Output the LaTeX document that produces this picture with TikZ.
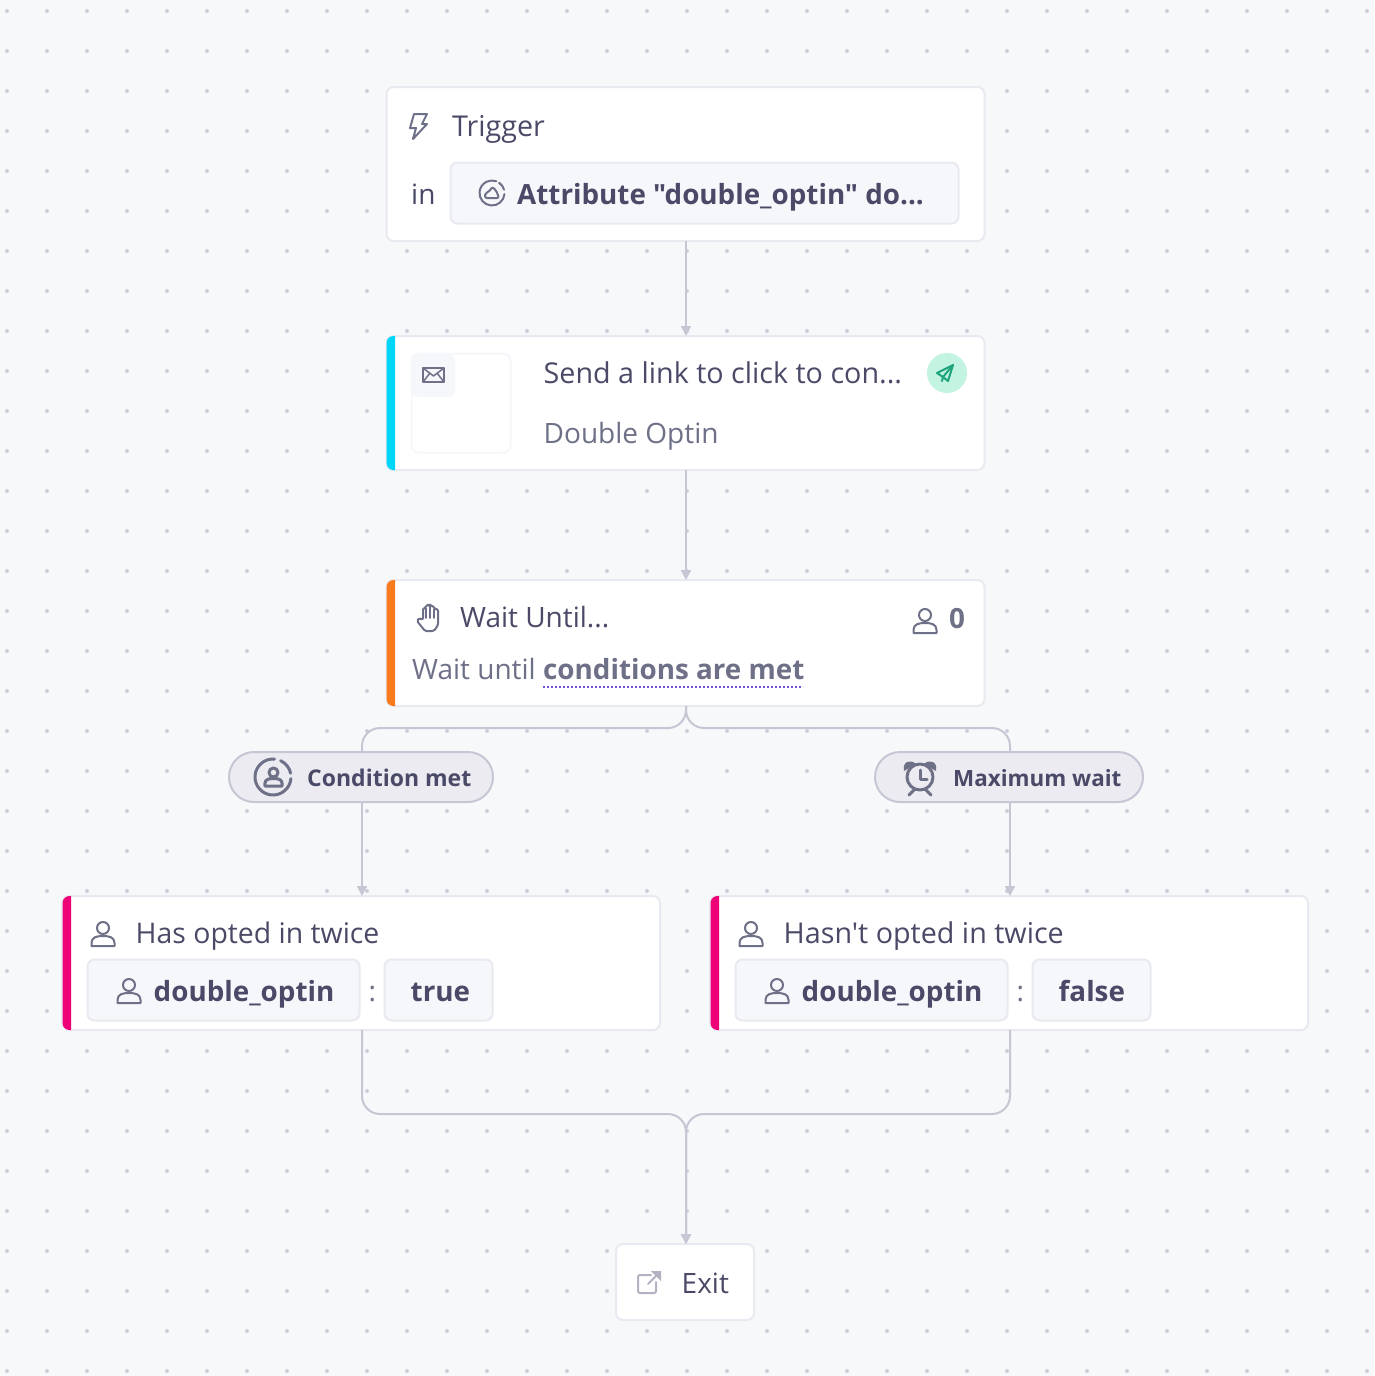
\documentclass[tikz,border=0pt]{standalone}
\usepackage{fontspec}
\usetikzlibrary{arrows.meta}
\newfontfamily\uifont{Open Sans}
\definecolor{pagebg}{HTML}{F7F8FA}
\definecolor{griddot}{HTML}{CDCDDA}
\definecolor{cardline}{HTML}{E9E9F1}
\definecolor{chipfill}{HTML}{F6F7FA}
\definecolor{pillfill}{HTML}{EBEBF1}
\definecolor{linkline}{HTML}{C6C6D4}
\definecolor{inkdark}{HTML}{4A4A68}
\definecolor{inkgrey}{HTML}{6E7088}
\definecolor{accentcyan}{HTML}{00D7F8}
\definecolor{accentorange}{HTML}{FA7A1E}
\definecolor{accentpink}{HTML}{EE0078}
\definecolor{mint}{HTML}{C2F4E1}
\definecolor{mintink}{HTML}{1FA37C}
\definecolor{dotpurple}{HTML}{7A4FE0}
\definecolor{exitgrey}{HTML}{B2B2C2}

\begin{document}
\begin{tikzpicture}[x=1pt,y=-1pt]
    % Define styles
    \tikzstyle{card} = [rectangle, rounded corners=7pt, draw=cardline, fill=white, line width=2pt, outer sep=0pt, inner sep=0pt]
    \tikzstyle{chip} = [card, fill=chipfill]
    \tikzstyle{pill} = [rectangle, rounded corners=25pt, draw=linkline, fill=pillfill, line width=2pt, outer sep=0pt, inner sep=0pt]
    \tikzstyle{link} = [draw=linkline, line width=2pt, rounded corners=18pt]
    \tikzstyle{arrowlink} = [link, -{Triangle[length=10pt,width=10pt]}]
    \tikzstyle{icon} = [draw=inkgrey, line width=2pt, line join=round, line cap=round]
    \tikzstyle{personpen} = []
    \tikzstyle{titletext} = [anchor=base west, inner sep=0pt, text=inkdark, font=\uifont\fontsize{28}{34}\selectfont]
    \tikzstyle{longtext} = [titletext, font=\uifont\fontsize{28.7}{34}\selectfont]
    \tikzstyle{subtext} = [titletext, text=inkgrey]
    \tikzstyle{chiptext} = [titletext, font=\uifont\bfseries\fontsize{27.8}{34}\selectfont]
    \tikzstyle{pilltext} = [titletext, font=\uifont\bfseries\fontsize{23}{30}\selectfont]
    \tikzset{
        pics/personicon/.style={code={
            \draw[icon, personpen] (0,-6) circle (6pt);
            \draw[icon, personpen] (-11.5,12) -- (-11.5,9) .. controls (-11.5,3) and (-6,2) .. (0,2) .. controls (6,2) and (11.5,3) .. (11.5,9) -- (11.5,12) -- cycle;
        }}
    }

    % Background and dots
    \fill[pagebg] (0,0) rectangle (1374,1376);
    \foreach \col in {0,...,34} {
        \foreach \row in {0,...,34} {
            \fill[griddot] (7+40*\col,11+40*\row) circle (2pt);
        }
    }

    % Cards
    \node[card, minimum width=598pt, minimum height=154pt] (trigger) at (685.5,164) {};
    \node[card, minimum width=598pt, minimum height=134pt] (send) at (685.5,403) {};
    \node[card, minimum width=598pt, minimum height=126pt] (wait) at (685.5,643) {};
    \node[card, minimum width=598pt, minimum height=134pt] (opted) at (361,963) {};
    \node[card, minimum width=598pt, minimum height=134pt] (notopted) at (1009,963) {};
    \node[card, minimum width=138pt, minimum height=76pt] (exit) at (685,1282) {};

    % Branch pills
    \node[pill, minimum width=264pt, minimum height=50pt] (condmet) at (361,777) {};
    \node[pill, minimum width=268pt, minimum height=50pt] (maxwait) at (1009,777) {};

    % Connectors
    \draw[arrowlink] ([xshift=.5pt]trigger.south) -- ([xshift=.5pt]send.north);
    \draw[arrowlink] ([xshift=.5pt]send.south) -- ([xshift=.5pt]wait.north);
    \draw[link] ([xshift=.5pt]wait.south) |- ([xshift=1pt]opted.north |- 0,728) -- ([xshift=1pt]opted.north |- condmet.north);
    \draw[link] ([xshift=.5pt]wait.south) |- ([xshift=1pt]notopted.north |- 0,728) -- ([xshift=1pt]notopted.north |- maxwait.north);
    \draw[arrowlink] ([xshift=1pt]opted.north |- condmet.south) -- ([xshift=1pt]opted.north);
    \draw[arrowlink] ([xshift=1pt]notopted.north |- maxwait.south) -- ([xshift=1pt]notopted.north);
    \draw[arrowlink] ([xshift=1pt]opted.south) |- ([xshift=1pt]exit.north |- 0,1114) -- ([xshift=1pt]exit.north);
    \draw[arrowlink] ([xshift=1pt]notopted.south) |- ([xshift=1pt]exit.north |- 0,1114) -- ([xshift=1pt]exit.north);

    % Accent bars
    \fill[accentcyan] (395,336) [rounded corners=7pt] -- (386.5,336) -- (386.5,470) [sharp corners] -- (395,470) -- cycle;
    \fill[accentorange] (395,580) [rounded corners=7pt] -- (386.5,580) -- (386.5,706) [sharp corners] -- (395,706) -- cycle;
    \fill[accentpink] (71,896) [rounded corners=7pt] -- (62.5,896) -- (62.5,1030) [sharp corners] -- (71,1030) -- cycle;
    \fill[accentpink] (719,896) [rounded corners=7pt] -- (710.5,896) -- (710.5,1030) [sharp corners] -- (719,1030) -- cycle;

    % Trigger card
    \draw[icon] (414,114) -- (427,114) -- (422,124) -- (427,124) -- (413,139) -- (416,128) -- (410,128) -- cycle;
    \node[longtext] (triggertitle) at (452,136) {Trigger};
    \node[titletext] (triggerin) at (411,204) {in};
    \node[chip, minimum width=508pt, minimum height=61pt] (attrchip) at (704.5,193) {};
    \draw[icon] (492,193) ++(-5:12.5pt) arc (-5:-290:12.5pt);
    \draw[icon] (492,193) ++(55:12.5pt) arc (55:15:12.5pt);
    \draw[icon, rounded corners=2pt] (485,198) -- (485,193) -- (489,192) -- (492,187) -- (496,190) -- (499,198) -- cycle;
    \node[chiptext] (attrtext) at (517,204) {Attribute "double\_optin" do...};

    % Send card
    \node[card, draw=chipfill, minimum width=99pt, minimum height=99pt] (mailframe) at (461,403) {};
    \node[rectangle, rounded corners=7pt, fill=chipfill, minimum width=44pt, minimum height=44pt, inner sep=0pt] (mailtile) at (433,375) {};
    \draw[icon] (423,368) rectangle (444,382);
    \draw[icon, line width=1.5pt] (423,368) -- (433.5,376) -- (444,368) (423,382) -- (430,373) (444,382) -- (437,373);
    \node[longtext] (sendtitle) at (543.5,383) {Send a link to click to con...};
    \node[subtext] (sendsub) at (543.5,443) {Double Optin};
    \node[circle, fill=mint, minimum size=40pt, inner sep=0pt] (sentbadge) at (947,373) {};
    \draw[icon, draw=mintink] (953,365) -- (937,373) -- (943,377) -- (948,381) -- cycle;
    \draw[icon, draw=mintink] (953,365) -- (943,377) -- (942,381);

    % Wait card
    \draw[icon, rounded corners=1.5pt] (423,620) -- (423,608) -- (426,608) -- (426,605) -- (430,605) -- (430,606) -- (434,606) -- (434,609) -- (438,609) -- (438,625) -- (434,631) -- (425,631) -- (417,621) -- (419,618) -- cycle;
    \draw[icon, line width=1.5pt] (426,608) -- (426,618) (430,605) -- (430,618) (434,609) -- (434,618);
    \node[titletext] (waittitle) at (460,627) {Wait Until...};
    \pic at (925,621) {personicon};
    \node[chiptext, text=inkgrey] (waitcount) at (949,628) {0};
    \node[subtext] (waitprefix) at (412,679) {Wait until};
    \node[chiptext, text=inkgrey] (waitbold) at (543,679) {conditions are met};
    \draw[dotpurple, line width=2pt, dash pattern=on 2pt off 2pt] (543,686.5) -- (803,686.5);

    % Pill contents
    \draw[icon, line width=3pt] (273,777) ++(-5:18pt) arc (-5:-275:18pt);
    \draw[icon, line width=3pt] (273,777) ++(65:18pt) arc (65:12:18pt);
    \pic[scale=0.75, personpen/.style={line width=3pt}] at (273.5,777) {personicon};
    \node[pilltext] (condmettext) at (307,786) {Condition met};
    \draw[icon, line width=3pt] (920,777) circle (13pt);
    \fill[inkgrey] (904,771) .. controls (902,761) and (911,759) .. (916,764) -- cycle;
    \fill[inkgrey] (936,771) .. controls (938,761) and (929,759) .. (924,764) -- cycle;
    \draw[icon, line width=3pt] (920,770) -- (920,779) -- (927,779);
    \draw[icon, line width=3pt] (915,789) -- (909,795) (925,789) -- (931,795);
    \node[pilltext, font=\uifont\bfseries\fontsize{22.4}{30}\selectfont] (maxwaittext) at (953,786) {Maximum wait};

    % Condition cards
    \pic at (103,934) {personicon};
    \node[titletext, font=\uifont\fontsize{28.4}{34}\selectfont] (optedtitle) at (135.5,943) {Has opted in twice};
    \node[chip, minimum width=272pt, minimum height=61pt] (optedkey) at (223.5,990) {};
    \pic at (129,991) {personicon};
    \node[chiptext] (optedkeytext) at (153.5,1001) {double\_optin};
    \node[subtext] (optedcolon) at (368.5,1001) {:};
    \node[chip, minimum width=108pt, minimum height=61pt] (optedvalue) at (438.5,990) {};
    \node[chiptext] (optedvaluetext) at (410.5,1001) {true};

    \pic at (751,934) {personicon};
    \node[longtext] (notoptedtitle) at (783.5,943) {Hasn't opted in twice};
    \node[chip, minimum width=272pt, minimum height=61pt] (notoptedkey) at (871.5,990) {};
    \pic at (777,991) {personicon};
    \node[chiptext] (notoptedkeytext) at (801.5,1001) {double\_optin};
    \node[subtext] (notoptedcolon) at (1016.5,1001) {:};
    \node[chip, minimum width=118pt, minimum height=61pt] (notoptedvalue) at (1091.5,990) {};
    \node[chiptext] (notoptedvaluetext) at (1058.5,1001) {false};

    % Exit card
    \draw[icon, draw=exitgrey, rounded corners=2pt] (651,1275) -- (638,1275) -- (638,1293) -- (656,1293) -- (656,1282);
    \draw[icon, draw=exitgrey] (648,1284) -- (659,1273);
    \fill[exitgrey] (661,1271) -- (651,1271) -- (661,1281) -- cycle;
    \node[titletext] (exittext) at (681.5,1293) {Exit};
\end{tikzpicture}
\end{document}
